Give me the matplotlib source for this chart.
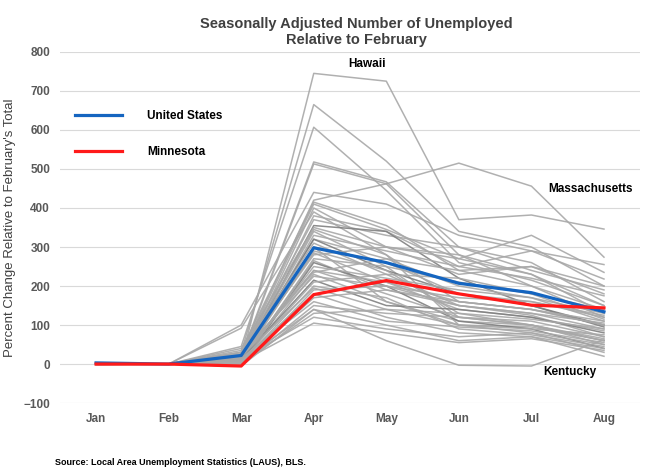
import matplotlib.pyplot as plt
import numpy as np

plt.rcParams['font.family'] = ['Liberation Sans', 'DejaVu Sans']

months = ['Jan', 'Feb', 'Mar', 'Apr', 'May', 'Jun', 'Jul', 'Aug']

# percent change in unemployed relative to February
united_states = [3, 0, 22, 298, 260, 207, 183, 134]
minnesota = [0, 0, -5, 178, 214, 180, 151, 144]

hawaii = [2, 0, 8, 745, 725, 370, 382, 346]
massachusetts = [1, 0, 25, 420, 462, 515, 456, 274]
kentucky = [-2, 0, -5, 140, 60, -3, -5, 62]

# the rest of the states (grey lines)
high_states = [
    [0, 0, 30, 665, 520, 340, 300, 200],
    [1, 0, 45, 607, 445, 260, 215, 150],
    [0, 0, 20, 518, 467, 300, 260, 160],
    [-1, 0, 15, 513, 462, 280, 230, 130],
    [0, 0, 100, 440, 410, 330, 290, 255],
    [0, 0, 35, 415, 355, 240, 200, 120],
    [2, 0, 20, 410, 345, 270, 330, 235],
    [0, 0, 10, 400, 300, 230, 250, 180],
    [0, 0, 92, 390, 280, 100, 95, 60],
    [1, 0, 5, 380, 340, 250, 290, 218],
    [0, 0, 25, 370, 330, 300, 240, 190],
    [0, 0, 10, 355, 340, 220, 150, 100],
    [0, 0, 40, 350, 300, 280, 200, 140],
    [0, 0, 25, 345, 280, 160, 140, 100],
]
mid_states = [
    [0, 0, 15, 340, 250, 120, 110, 70],
    [-1, 0, 5, 330, 290, 250, 220, 175],
    [0, 0, 20, 320, 270, 200, 170, 110],
    [0, 0, 15, 320, 240, 180, 150, 95],
    [0, 0, 30, 310, 230, 150, 130, 90],
    [1, 0, 12, 300, 260, 180, 160, 120],
    [0, 0, 10, 300, 160, 110, 100, 60],
    [0, 0, 8, 290, 240, 130, 100, 60],
    [0, 0, 18, 285, 210, 160, 140, 100],
    [0, 0, 22, 280, 300, 270, 230, 150],
    [0, 0, 0, 270, 250, 210, 180, 140],
    [0, 0, 5, 265, 190, 150, 125, 70],
    [0, 0, -5, 260, 200, 110, 90, 40],
    [0, 0, 10, 250, 220, 190, 170, 130],
    [0, 0, 15, 240, 180, 120, 100, 50],
    [0, 0, 20, 240, 210, 140, 120, 85],
    [1, 0, 25, 235, 270, 240, 250, 200],
]
low_states = [
    [0, 0, 5, 230, 160, 100, 80, 30],
    [0, 0, 30, 225, 200, 170, 160, 125],
    [0, 0, 12, 215, 150, 140, 120, 80],
    [0, 0, 8, 210, 230, 220, 180, 115],
    [0, 0, 3, 200, 170, 90, 75, 45],
    [0, 0, 20, 195, 140, 130, 115, 90],
    [0, 0, -3, 190, 200, 150, 130, 105],
    [0, 0, 10, 180, 120, 80, 70, 20],
    [0, 0, 5, 170, 190, 160, 140, 110],
    [0, 0, 15, 160, 110, 95, 85, 55],
    [0, 0, 0, 150, 130, 120, 100, 65],
    [0, 0, 8, 140, 100, 60, 70, 40],
    [0, 0, 2, 130, 140, 100, 90, 75],
    [0, 0, 12, 120, 90, 70, 80, 50],
    [0, 0, 6, 105, 80, 55, 65, 35],
]

grey_lines = [hawaii, massachusetts, kentucky] + high_states + mid_states + low_states

fig = plt.figure(figsize=(6.5, 4.72), dpi=100)
ax = fig.add_axes([0.092, 0.146, 0.893, 0.744])

x = np.arange(len(months))
for i, vals in enumerate(grey_lines):
    # a few of the state lines look a bit darker in the original
    col = '#808080' if i in (14, 20, 29, 36) else '#a8a8a8'
    ax.plot(x, vals, color=col, lw=1.1, alpha=0.9, zorder=2)

ax.plot(x, united_states, color='#1565c0', lw=2.3, zorder=4, label='United States')
ax.plot(x, minnesota, color='#ff1a1a', lw=2.3, zorder=4, label='Minnesota')

ax.set_xlim(-0.5, 7.5)
ax.set_ylim(-100, 800)
ax.set_yticks(np.arange(-100, 801, 100))
ax.set_xticks(x)
ax.set_xticklabels(months)
ax.grid(axis='y', color='#d9d9d9', lw=0.8)
ax.set_axisbelow(True)
for s in ax.spines.values():
    s.set_visible(False)
ax.tick_params(length=0, labelsize=8.5, labelcolor='#595959', pad=7)
for lab in ax.get_xticklabels() + ax.get_yticklabels():
    lab.set_fontweight('bold')

ax.set_ylabel("Percent Change Relative to February's Total", fontsize=9.5,
              color='#404040', labelpad=5)

leg = ax.legend(loc='upper left', bbox_to_anchor=(0.026, 0.834), frameon=False,
                fontsize=8.5, handlelength=4, handletextpad=2.1, labelspacing=2.0,
                borderpad=0, borderaxespad=0)
for t in leg.get_texts():
    t.set_fontweight('bold')

ax.text(3.73, 769, 'Hawaii', fontsize=8.5, fontweight='bold', ha='center', va='center')
ax.text(6.81, 449, 'Massachusetts', fontsize=8.5, fontweight='bold', ha='center', va='center')
ax.text(6.53, -20, 'Kentucky', fontsize=8.5, fontweight='bold', ha='center', va='center')

fig.text(0.548, 0.965, 'Seasonally Adjusted Number of Unemployed\nRelative to February',
         ha='center', va='top', fontsize=10.5, fontweight='bold', color='#404040',
         linespacing=1.25)
fig.text(0.085, 0.021, 'Source: Local Area Unemployment Statistics (LAUS), BLS.',
         fontsize=6.5, fontweight='bold', va='center')

fig.savefig('out.png', dpi=100)
